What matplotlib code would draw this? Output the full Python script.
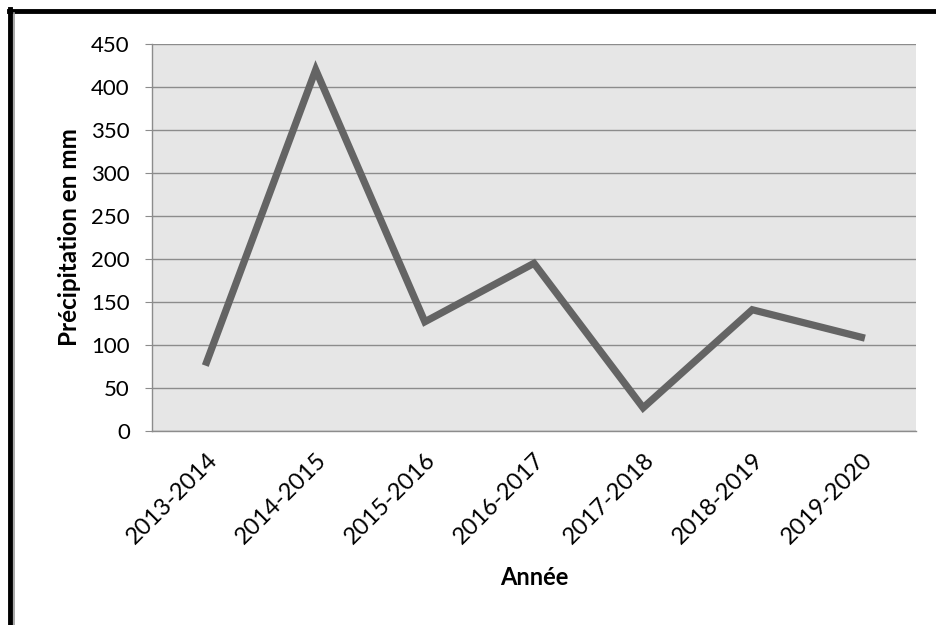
import matplotlib.pyplot as plt
from matplotlib.lines import Line2D

plt.rcParams['font.family'] = ['Lato', 'DejaVu Sans']

saisons = ["2013-2014", "2014-2015", "2015-2016", "2016-2017",
           "2017-2018", "2018-2019", "2019-2020"]
precip = [80, 420, 127, 195, 27, 141, 109]
yticks = [0, 50, 100, 150, 200, 250, 300, 350, 400, 450]

fig = plt.figure(figsize=(9.36, 6.25), dpi=100)
ax = fig.add_axes([0.1624, 0.3104, 0.8162, 0.6192])
ax.set_facecolor('#e6e6e6')

x = range(len(saisons))
ax.plot(x, precip, color='#646464', lw=5.2, solid_joinstyle='miter', zorder=3)

ax.set_xlim(-0.5, len(saisons) - 0.5)
ax.set_ylim(0, 450)
ax.set_yticks(yticks)
ax.set_xticks(list(x))
ax.set_xticklabels(saisons, rotation=45, ha='right', rotation_mode='anchor')
ax.yaxis.grid(True, color='#8c8c8c', lw=1)
ax.set_axisbelow(True)

for s in ['top', 'right']:
    ax.spines[s].set_visible(False)
for s in ['left', 'bottom']:
    ax.spines[s].set_color('#8c8c8c')
    ax.spines[s].set_linewidth(1)

ax.tick_params(axis='y', length=5, color='#8c8c8c', labelsize=16, pad=11)
ax.tick_params(axis='x', length=0, labelsize=17, pad=13)

ax.set_ylabel('Précipitation en mm', fontsize=17.5, fontweight='bold', labelpad=7)
ax.set_xlabel('Année', fontsize=17, fontweight='bold', labelpad=13)

# cadre de la capture (haut et gauche)
fig.add_artist(Line2D([0.0096, 1.0], [0.9825, 0.9825], color='black', lw=3.5,
                      transform=fig.transFigure))
fig.add_artist(Line2D([0.0107, 0.0107], [0.0, 0.985], color='black', lw=3.5,
                      transform=fig.transFigure))
fig.add_artist(Line2D([0.0145, 0.0145], [0.0, 0.98], color='#999999', lw=1.2,
                      transform=fig.transFigure))

fig.savefig('out.png', dpi=100)
